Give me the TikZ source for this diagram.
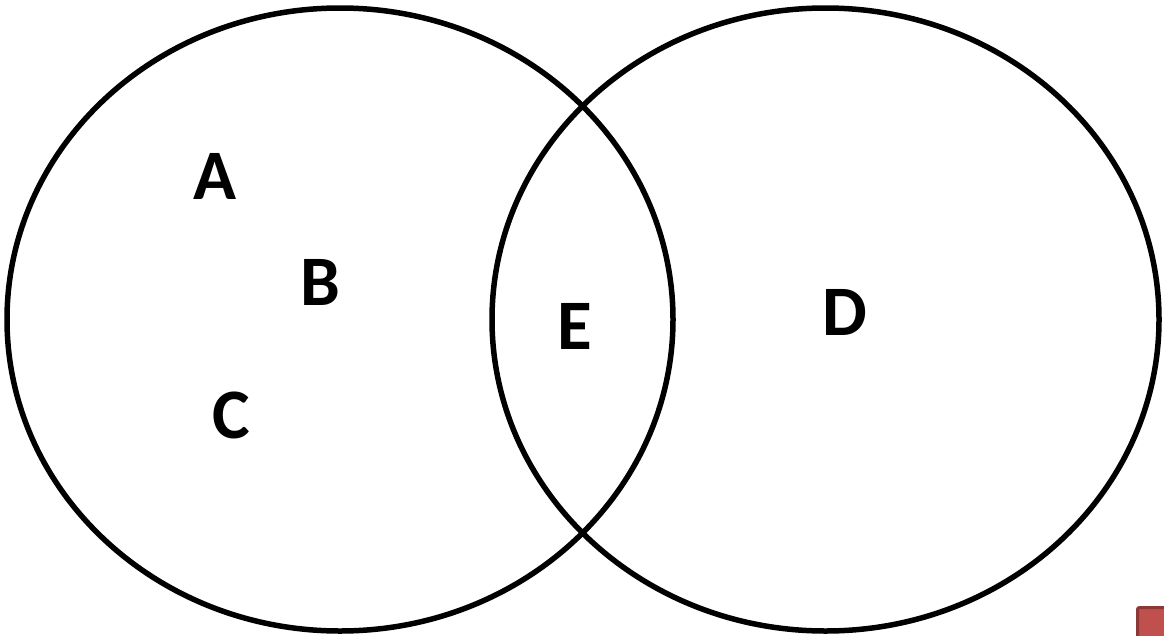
\documentclass[tikz,border=0pt]{standalone}
\usepackage{fontspec}
\setmainfont{Carlito}
\definecolor{boxred}{HTML}{C0504D}
\definecolor{boxedge}{HTML}{8C3836}
\begin{document}
\begin{tikzpicture}[x=1pt,y=-1pt,
  setring/.style={draw=black,line width=5.5pt},
  lbl/.style={font=\fontsize{71}{71}\selectfont\bfseries,inner sep=0pt,anchor=center}]
\useasboundingbox (0,0) rectangle (1164,635);
\clip (0,0) rectangle (1164,635);
\fill[white] (0,0) rectangle (1164,635);
\draw[setring] (340,319.5) ellipse [x radius=333,y radius=311.5];
\draw[setring] (825.5,319.5) ellipse [x radius=333.5,y radius=311.5];
\node[lbl] (a) at (215,176) {A};
\node[lbl] (b) at (320,282) {B};
\node[lbl] (c) at (231,415) {C};
\node[lbl] (e) at (575,326) {E};
\node[lbl] (d) at (845,312) {D};
\draw[fill=boxred,draw=boxedge,line width=3pt,rounded corners=2pt] (1137.5,607.5) rectangle (1200,680);
\end{tikzpicture}
\end{document}
